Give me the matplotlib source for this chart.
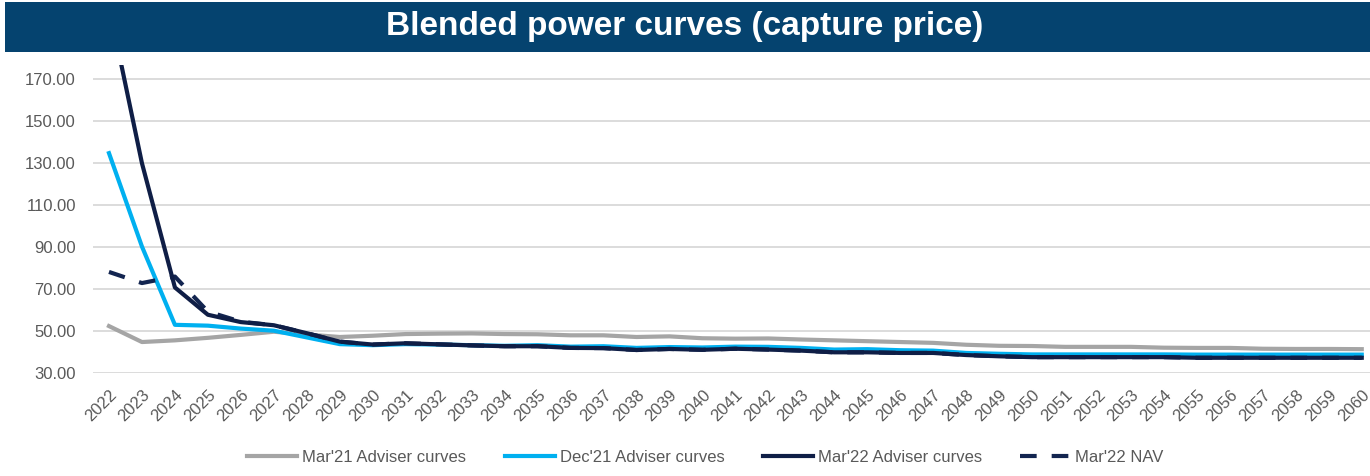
import matplotlib
matplotlib.use('Agg')
from matplotlib import pyplot as plt
from matplotlib.patches import Rectangle

plt.rcParams['font.family'] = ['Liberation Sans', 'DejaVu Sans']

years = [str(y) for y in range(2022, 2061)]

mar21_adviser = [52.4, 44.8, 45.6, 46.8, 48.2, 49.7, 48.4, 47.2, 47.8, 48.6,
                 48.8, 48.9, 48.6, 48.5, 48.0, 48.0, 47.2, 47.5, 46.6, 46.4,
                 46.5, 46.0, 45.6, 45.2, 44.8, 44.4, 43.5, 43.0, 42.9, 42.5,
                 42.5, 42.5, 42.1, 42.0, 42.0, 41.6, 41.5, 41.5, 41.4]

dec21_adviser = [134.8, 90.3, 53.0, 52.6, 51.2, 50.2, 47.0, 43.8, 43.3, 43.8,
                 43.6, 43.3, 43.0, 43.3, 42.6, 42.8, 42.0, 42.4, 42.2, 42.6,
                 42.5, 42.0, 41.2, 41.4, 40.9, 40.7, 39.6, 39.2, 38.9, 38.9,
                 38.9, 38.9, 38.9, 38.8, 38.8, 38.8, 38.8, 38.8, 38.8]

mar22_adviser = [205.0, 130.0, 70.8, 57.8, 54.3, 52.8, 49.0, 45.0, 43.6, 44.2,
                 43.7, 43.2, 42.8, 42.8, 42.0, 41.9, 41.0, 41.5, 41.1, 41.6,
                 41.2, 40.7, 39.9, 39.9, 39.6, 39.6, 38.6, 38.0, 37.6, 37.6,
                 37.6, 37.6, 37.6, 37.3, 37.3, 37.3, 37.3, 37.3, 37.3]

mar22_nav = [78.2, 72.9, 76.0, 59.3, 54.5, 52.8, 49.0, 45.0, 43.6, 44.2,
             43.7, 43.2, 42.8, 42.8, 42.0, 41.9, 41.0, 41.5, 41.1, 41.6,
             41.2, 40.7, 39.9, 39.9, 39.6, 39.6, 38.6, 38.0, 37.6, 37.6,
             37.6, 37.6, 37.6, 37.3, 37.3, 37.3, 37.3, 37.3, 37.3]

yticks = [30, 50, 70, 90, 110, 130, 150, 170]

W, H = 1370, 476
fig = plt.figure(figsize=(W / 100, H / 100), dpi=100)

# title bar
fig.patches.append(Rectangle((5 / W, 1 - 52 / H), 1, 50 / H, transform=fig.transFigure,
                             facecolor='#05436f', edgecolor='none', zorder=0))
fig.text(0.5, 1 - 27 / H, 'Blended power curves (capture price)', color='white',
         fontsize=24, fontweight='bold', ha='center', va='center')

ax = fig.add_axes([92.5 / W, 1 - 373.3 / H, 1 - 92.5 / W, (373.3 - 65) / H])
x = list(range(len(years)))

ax.plot(x, mar21_adviser, color='#a5a5a5', lw=3, label="Mar'21 Adviser curves", zorder=3)
ax.plot(x, dec21_adviser, color='#00b0f0', lw=3, label="Dec'21 Adviser curves", zorder=4)
ax.plot(x, mar22_nav, color='#132550', lw=3, dashes=(4, 3.6), label="Mar'22 NAV", zorder=5)
ax.plot(x, mar22_adviser, color='#0f1e46', lw=3, label="Mar'22 Adviser curves", zorder=6)

ax.set_xlim(-0.5, 38.25)
ax.set_ylim(29.9, 176.8)
ax.set_yticks(yticks)
ax.set_yticklabels(['%.2f' % v for v in yticks])
ax.set_xticks(x)
ax.set_xticklabels(years, rotation=45, ha='right', va='top', rotation_mode='anchor')
ax.tick_params(axis='both', length=0, labelsize=12, labelcolor='#595959')
ax.tick_params(axis='y', pad=12)
ax.tick_params(axis='x', pad=10)
ax.grid(axis='y', color='#d9d9d9', lw=1.3)
ax.set_axisbelow(True)
for s in ax.spines.values():
    s.set_visible(False)

h, l = ax.get_legend_handles_labels()
order = [0, 1, 3, 2]
fig.legend([h[i] for i in order], [l[i] for i in order], loc='center',
           bbox_to_anchor=(0.515, 1 - 457 / H), ncol=4, frameon=False, fontsize=12,
           handlelength=3.0, handletextpad=0.3, columnspacing=2.3, labelcolor='#595959')

fig.savefig('out.png', dpi=100)
